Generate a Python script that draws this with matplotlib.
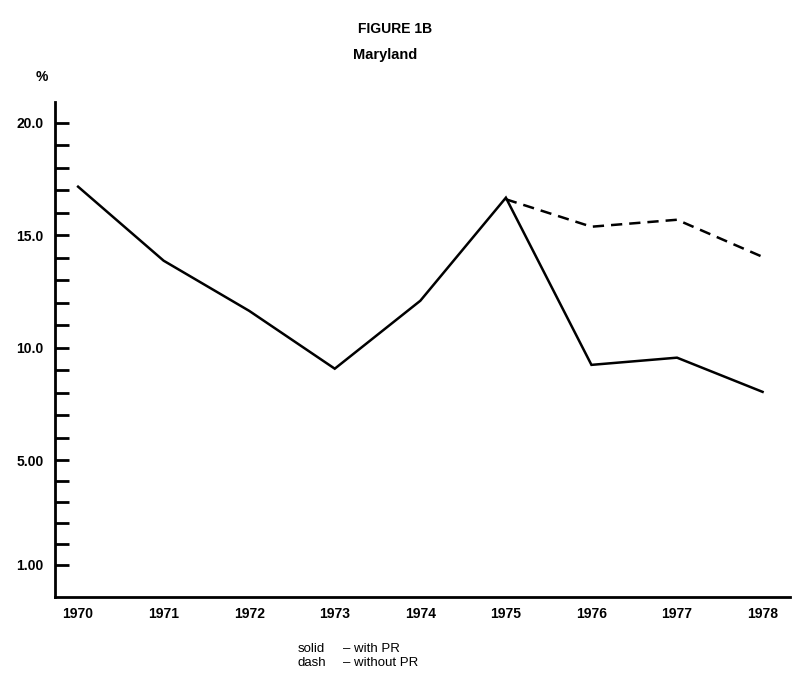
import numpy as np
import matplotlib
matplotlib.use("Agg")
import matplotlib.pyplot as plt

plt.rcParams['font.family'] = ['Liberation Sans', 'DejaVu Sans']

years = [1970, 1971, 1972, 1973, 1974, 1975, 1976, 1977, 1978]
with_pr = [17.16, 13.87, 11.64, 9.07, 12.09, 16.67, 9.24, 9.56, 8.04]
dash_years = [1975, 1976, 1977, 1978]
without_pr = [16.6, 15.38, 15.69, 14.04]

major_ticks = [20.0, 15.0, 10.0, 5.0, 0.35]
major_labels = ['20.0', '15.0', '10.0', '5.00', '1.00']

fig = plt.figure(figsize=(7.98, 6.79), dpi=100)
ax = fig.add_axes([0.0689, 0.121, 0.921, 0.729])

ax.plot(years, with_pr, color='black', lw=1.8, solid_joinstyle='miter')
ax.plot(dash_years, without_pr, color='black', lw=1.8, dashes=(4.5, 2.8))

ax.set_xlim(1969.73, 1978.32)
ax.set_ylim(-1.07, 20.93)

# minor ticks: whole units above 5, evenly spaced steps down to the 1.00 label
minor = list(np.arange(6, 20)) + list(np.linspace(5, 0.35, 6)[1:-1])
ax.set_yticks(major_ticks)
ax.set_yticklabels(major_labels, fontsize=10, fontweight='bold')
ax.set_yticks(minor, minor=True)
ax.tick_params(axis='y', which='both', direction='in', length=10, width=2, pad=8)
ax.set_xticks(years)
ax.set_xticklabels([str(y) for y in years], fontsize=10, fontweight='bold')
ax.tick_params(axis='x', length=0, pad=7)

for s in ['top', 'right']:
    ax.spines[s].set_visible(False)
for s in ['left', 'bottom']:
    ax.spines[s].set_linewidth(2)

fig.text(0.495, 0.958, 'FIGURE 1B', ha='center', va='center', fontsize=10, fontweight='bold')
fig.text(0.482, 0.919, 'Maryland', ha='center', va='center', fontsize=10.5, fontweight='bold')
fig.text(0.053, 0.886, '%', ha='center', va='center', fontsize=10, fontweight='bold')
fig.text(0.373, 0.044, 'solid', ha='left', va='center', fontsize=9.5)
fig.text(0.373, 0.023, 'dash', ha='left', va='center', fontsize=9.5)
fig.text(0.430, 0.044, '\u2013 with PR', ha='left', va='center', fontsize=9.5)
fig.text(0.430, 0.023, '\u2013 without PR', ha='left', va='center', fontsize=9.5)

fig.savefig('out.png', dpi=100)
